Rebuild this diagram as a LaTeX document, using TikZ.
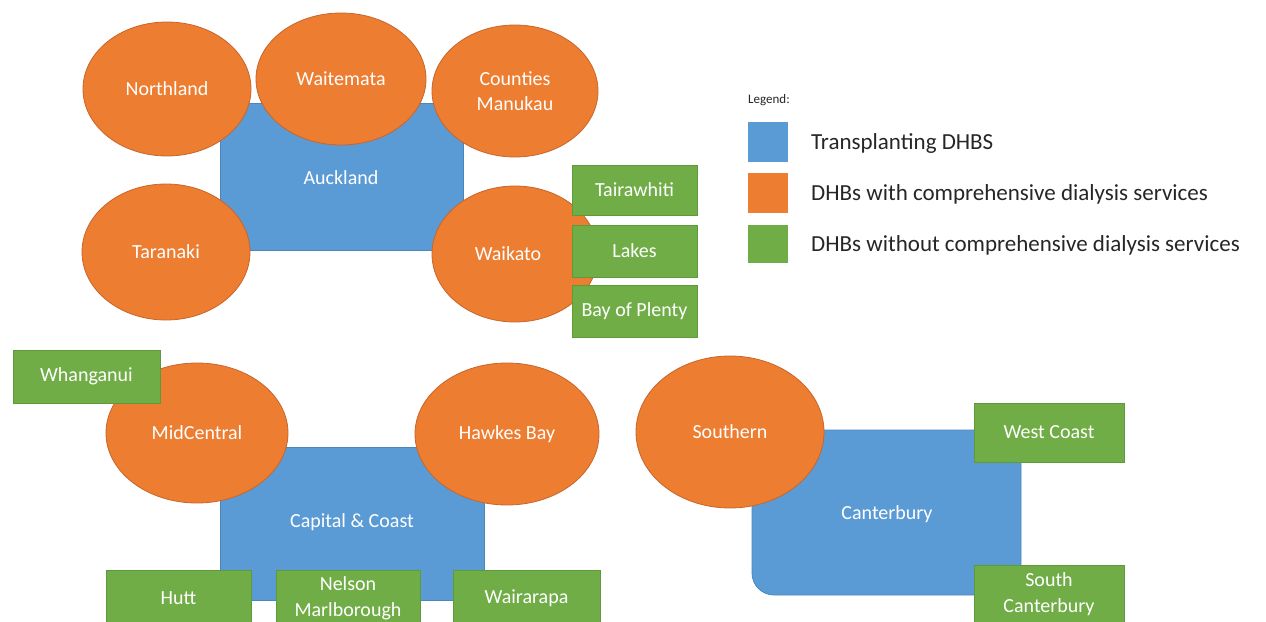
\documentclass[tikz,border=0pt]{standalone}
\usepackage{fontspec}
\setmainfont{Carlito}
\usetikzlibrary{shapes.geometric}
\definecolor{tblue}{HTML}{5B9BD5}
\definecolor{tblueline}{HTML}{4A86BE}
\definecolor{torange}{HTML}{ED7D31}
\definecolor{torangeline}{HTML}{C8652A}
\definecolor{tgreen}{HTML}{70AD47}
\definecolor{tgreenline}{HTML}{5E9A3A}
\definecolor{legtext}{HTML}{262626}
\tikzset{
  hub/.style={fill=tblue, draw=tblueline, line width=0.8pt, text=white, inner sep=0pt, align=center},
  lbl/.style={text=white, font=\fontsize{20}{25}\selectfont, inner sep=0pt, align=center},
  dial/.style={ellipse, fill=torange, draw=torangeline, line width=0.8pt, text=white, font=\fontsize{20}{25}\selectfont, inner sep=0pt, align=center},
  nodial/.style={fill=tgreen, draw=tgreenline, line width=0.8pt, text=white, font=\fontsize{20}{26}\selectfont, inner sep=0pt, align=center},
  legsq/.style={minimum width=40pt, minimum height=40pt, inner sep=0pt},
  legtxt/.style={anchor=west, text=legtext, font=\fontsize{23}{27}\selectfont, inner sep=0pt}
}
\begin{document}
\begin{tikzpicture}[x=1pt, y=-1pt]
\useasboundingbox (0,0) rectangle (1266,621);
\clip (0,0) rectangle (1266,621);
% ---------- Auckland group ----------
\node[hub, minimum width=243pt, minimum height=147pt] (auckland) at (341.5,176.5) {};
\node[dial, minimum width=168pt, minimum height=134pt] (northland) at (167,89) {Northland};
\node[dial, minimum width=170pt, minimum height=132pt] (waitemata) at (341,79) {Waitemata};
\node[dial, minimum width=166pt, minimum height=132pt] (counties) at (515,91) {Counties\\Manukau};
\node[dial, minimum width=168pt, minimum height=136pt] (taranaki) at (166,252) {Taranaki};
\node[dial, minimum width=166pt, minimum height=136pt] (waikato) at (515,254) {};
\node[lbl] (waikatolbl) at (508,254) {Waikato};
\node[lbl] (aucklandlbl) at (341,178) {Auckland};
\node[nodial, minimum width=125pt, minimum height=50pt] (tairawhiti) at (634.5,190) {Tairawhiti};
\node[nodial, minimum width=125pt, minimum height=52pt] (lakes) at (634.5,251) {Lakes};
\node[nodial, minimum width=125pt, minimum height=52pt] (bop) at (634.5,311) {Bay of Plenty};
% ---------- Capital & Coast group ----------
\node[hub, minimum width=264pt, minimum height=153pt] (capital) at (352,523.5) {};
\node[lbl] (capitallbl) at (352,522) {Capital \& Coast};
\node[dial, minimum width=182pt, minimum height=140pt] (midcentral) at (197,433) {MidCentral};
\node[dial, minimum width=184pt, minimum height=142pt] (hawkes) at (507,434) {Hawkes Bay};
\node[nodial, minimum width=147pt, minimum height=53pt] (whanganui) at (86.5,376.5) {Whanganui};
\node[nodial, minimum width=145pt, minimum height=56pt] (hutt) at (178.5,598) {Hutt};
\node[nodial, minimum width=144pt, minimum height=56pt] (nelson) at (348,598) {Nelson\\Marlborough};
\node[nodial, minimum width=147pt, minimum height=56pt] (wairarapa) at (526.5,598) {Wairarapa};
% ---------- Canterbury group ----------
\node[hub, rounded corners=22pt, minimum width=269pt, minimum height=165pt] (canterbury) at (886.5,512.5) {};
\node[lbl] (canterburylbl) at (887,514) {Canterbury};
\node[dial, minimum width=188pt, minimum height=152pt] (southern) at (730,432) {Southern};
\node[nodial, minimum width=150pt, minimum height=59pt] (westcoast) at (1049,432.5) {West Coast};
\node[nodial, minimum width=150pt, minimum height=58pt] (southcant) at (1049,594) {South\\Canterbury};
% ---------- Legend ----------
\node[anchor=west, text=legtext, font=\fontsize{13}{15}\selectfont, inner sep=0pt] (legend) at (748,100) {Legend:};
\node[legsq, fill=tblue] (lblue) at (768,142) {};
\node[legsq, fill=torange] (lorange) at (768,193) {};
\node[legsq, fill=tgreen, minimum height=38pt] (lgreen) at (768,244) {};
\node[legtxt] (tblue) at (811,143) {Transplanting DHBS};
\node[legtxt] (torange) at (811,194) {DHBs with comprehensive dialysis services};
\node[legtxt] (tgreen) at (811,245) {DHBs without comprehensive dialysis services};
\end{tikzpicture}
\end{document}
